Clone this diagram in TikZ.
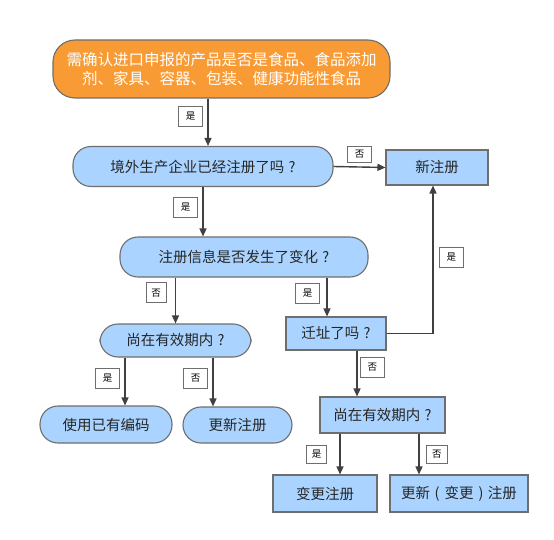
\documentclass[tikz,border=0pt]{standalone}
\usepackage{fontspec}
\newfontfamily\cjk{Noto Sans CJK SC}
\usepackage{tikz}
\usetikzlibrary{positioning,arrows.meta}
\definecolor{myorange}{HTML}{F99B35}
\definecolor{myblue}{HTML}{AAD4FF}
\definecolor{myline}{HTML}{404040}
\definecolor{myedge}{HTML}{6E6E6E}
\newcommand{\qm}{\kern.3em?}

\begin{document}
\begin{tikzpicture}[x=1pt, y=-1pt,
	box/.style = {draw=myedge, line width=1.1pt, fill=myblue, text=black!85, inner sep=0pt, font=\cjk\fontsize{14.5}{17}\selectfont},
	pill/.style = {box, rounded corners=18pt},
	start/.style = {box, fill=myorange, text=white, rounded corners=22pt, align=center, font=\cjk\fontsize{15.5}{19}\selectfont},
	tag/.style = {draw=myedge, line width=0.9pt, fill=white, inner sep=0pt, minimum width=24pt, minimum height=20pt, font=\cjk\fontsize{9.5}{11}\selectfont},
	arr/.style = {draw=myline, line width=1.4pt, -{Triangle[length=8pt,width=7pt]}}]
	\useasboundingbox[fill=white] (0,0) rectangle (554,540);
	% boxes
	\node[start, minimum width=337pt, minimum height=58pt] (top) at (221.5,69) {需确认进口申报的产品是否是食品、食品添加\\剂、家具、容器、包装、健康功能性食品};
	\node[pill, minimum width=260pt, minimum height=40pt] (reg) at (203,166.5) {境外生产企业已经注册了吗\qm};
	\node[box, minimum width=102pt, minimum height=35pt] (new) at (437,167.5) {新注册};
	\node[pill, minimum width=248pt, minimum height=40pt] (info) at (244,257) {注册信息是否发生了变化\qm};
	\node[box, minimum width=100pt, minimum height=33pt] (move) at (336,333.5) {迁址了吗\qm};
	\node[pill, minimum width=151pt, minimum height=33pt] (valid1) at (175.5,340.5) {尚在有效期内\qm};
	\node[pill, minimum width=132pt, minimum height=37pt] (use) at (106,424.5) {使用已有编码};
	\node[pill, minimum width=109pt, minimum height=36pt] (renew1) at (237.5,425) {更新注册};
	\node[box, minimum width=125pt, minimum height=36pt] (valid2) at (382.5,415) {尚在有效期内\qm};
	\node[box, minimum width=104pt, minimum height=37pt] (change) at (325,493.5) {变更注册};
	\node[box, minimum width=138pt, minimum height=37pt] (renew2) at (459,493.5) {更新\kern.3em(\kern.35em变更\kern.35em)\kern.3em注册};
	% connectors
	\draw[arr] ([xshift=-13.5pt]top.south) -- ([xshift=-13.5pt]top.south |- reg.north)
		node[tag, pos=.38, left=5pt] {是};
	\draw[arr] (reg.east) -- (new.west)
		node[tag, midway, above=4pt, minimum height=16pt] {否};
	\draw[arr] (reg.south) -- (reg.south |- info.north)
		node[tag, pos=.41, left=5pt] {是};
	\draw[arr] (valid1.north |- info.south) -- (valid1.north)
		node[tag, pos=.33, left=9pt, minimum width=20pt] {否};
	\draw[arr] ([xshift=-9pt]move.north |- info.south) -- ([xshift=-9pt]move.north)
		node[tag, pos=.4, left=7pt] {是};
	\draw[arr] (move.east) -| ([xshift=-4pt]new.south)
		node[tag, pos=.757, right=6pt] {是};
	\draw[arr] ([xshift=19pt]use.north |- valid1.south) -- ([xshift=19pt]use.north)
		node[tag, pos=.43, left=5pt] {是};
	\draw[arr] ([xshift=-24.5pt]renew1.north |- valid1.south) -- ([xshift=-24.5pt]renew1.north)
		node[tag, pos=.43, left=5pt] {否};
	\draw[arr] ([xshift=21pt]move.south) -- ([xshift=21pt]move.south |- valid2.north)
		node[tag, pos=.37, right=3pt] {否};
	\draw[arr] ([xshift=15pt]change.north |- valid2.south) -- ([xshift=15pt]change.north)
		node[tag, pos=.5, left=13pt, minimum width=20pt, minimum height=18pt] {是};
	\draw[arr] ([xshift=-40pt]renew2.north |- valid2.south) -- ([xshift=-40pt]renew2.north)
		node[tag, pos=.5, right=7pt, minimum width=21pt, minimum height=18pt] {否};
\end{tikzpicture}
\end{document}
